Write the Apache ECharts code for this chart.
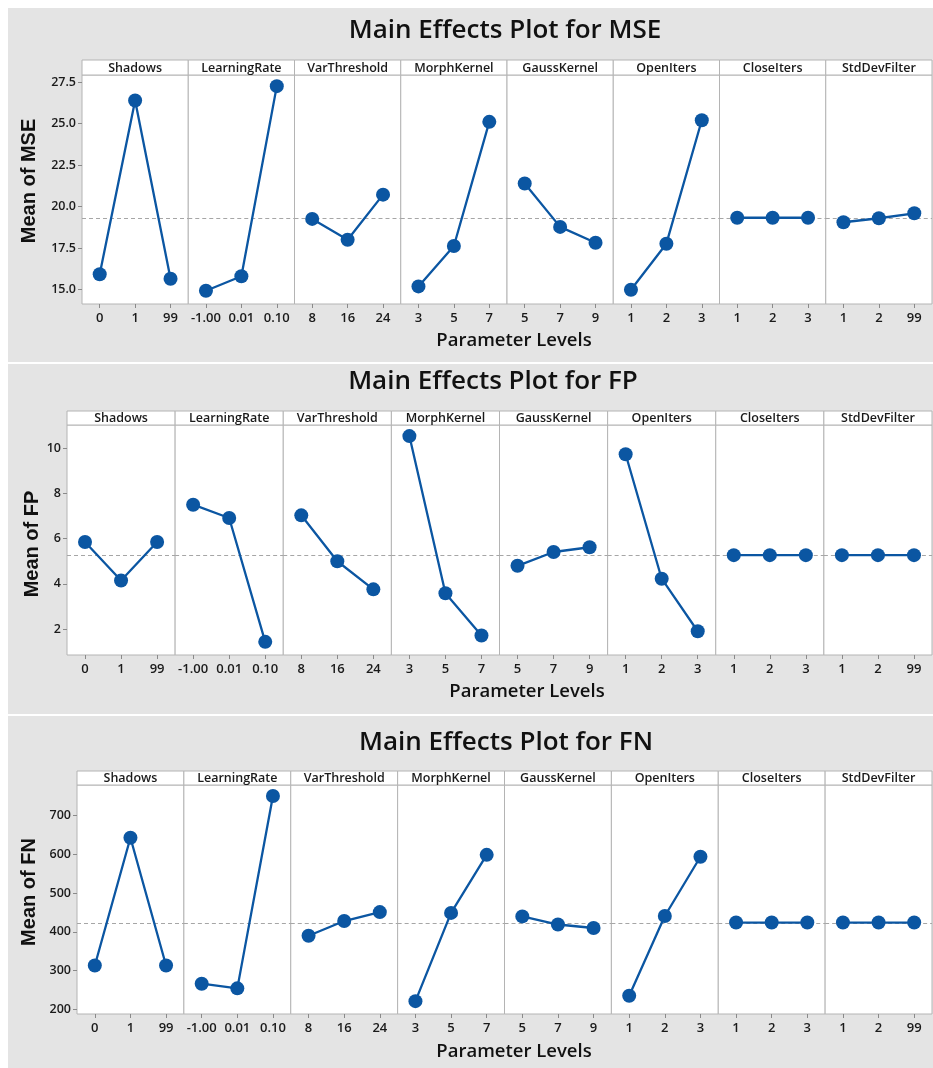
<!DOCTYPE html>
<html>
<head>
<meta charset="utf-8">
<script src="https://cdn.jsdelivr.net/npm/echarts@6/dist/echarts.min.js"></script>
<style>
  html, body { margin: 0; padding: 0; background: #ffffff; }
  #chart { width: 933px; height: 1068px; }
</style>
</head>
<body>
<div id="chart"></div>
<script>
// Factors and their three levels (x tick labels of each small panel)
const factors = ['Shadows', 'LearningRate', 'VarThreshold', 'MorphKernel', 'GaussKernel', 'OpenIters', 'CloseIters', 'StdDevFilter'];
const levelLabels = [
  ['0', '1', '99'],
  ['-1.00', '0.01', '0.10'],
  ['8', '16', '24'],
  ['3', '5', '7'],
  ['5', '7', '9'],
  ['1', '2', '3'],
  ['1', '2', '3'],
  ['1', '2', '99']
];

// Level means for each response, one row per factor
const mseMeans = [
  [15.93, 26.39, 15.66],
  [14.94, 15.81, 27.25],
  [19.26, 18.01, 20.72],
  [15.20, 17.63, 25.10],
  [21.39, 18.78, 17.83],
  [15.00, 17.77, 25.20],
  [19.33, 19.33, 19.33],
  [19.06, 19.30, 19.60]
];
const fpMeans = [
  [5.85, 4.15, 5.85],
  [7.50, 6.91, 1.44],
  [7.03, 5.00, 3.76],
  [10.53, 3.59, 1.72],
  [4.80, 5.41, 5.62],
  [9.73, 4.23, 1.91],
  [5.27, 5.27, 5.27],
  [5.27, 5.27, 5.27]
];
const fnMeans = [
  [313, 643, 313],
  [266, 254, 751],
  [390, 428, 451],
  [221, 449, 599],
  [440, 419, 410],
  [235, 441, 594],
  [424, 424, 424],
  [424, 424, 424]
];

// Grand means (dashed reference lines)
const grandMeans = [19.33, 5.27, 423];

// Y tick values and axis ranges
const mseTicks = [15.0, 17.5, 20.0, 22.5, 25.0, 27.5];
const fpTicks = [2, 4, 6, 8, 10];
const fnTicks = [200, 300, 400, 500, 600, 700];
const mseRange = [14.14, 27.92];
const fpRange = [0.86, 11.02];
const fnRange = [187.8, 779.4];

const responses = [
  { name: 'MSE', means: mseMeans, grand: grandMeans[0], ticks: mseTicks, range: mseRange, digits: 1 },
  { name: 'FP', means: fpMeans, grand: grandMeans[1], ticks: fpTicks, range: fpRange, digits: 0 },
  { name: 'FN', means: fnMeans, grand: grandMeans[2], ticks: fnTicks, range: fnRange, digits: 0 }
];

// Page layout of the three stacked panels (pixels)
const layout = [
  { bgTop: 8, bgBottom: 362, titleX: 505, titleY: 31, left: 82, right: 932, headerTop: 60, plotTop: 75, plotBottom: 304, xNameX: 514, xNameY: 341, yNameX: 29, yNameY: 181 },
  { bgTop: 364, bgBottom: 714, titleX: 493, titleY: 382, left: 67, right: 932, headerTop: 411, plotTop: 425, plotBottom: 655, xNameX: 527, xNameY: 692, yNameX: 32, yNameY: 544 },
  { bgTop: 716, bgBottom: 1068, titleX: 506, titleY: 743, left: 77, right: 932, headerTop: 771, plotTop: 785, plotBottom: 1014, xNameX: 514, xNameY: 1052, yNameX: 29, yNameY: 892 }
];

const LINE_BLUE = '#0b56a2';
const BORDER = '#b4b4b4';
const PANEL_BG = '#e4e4e4';
const TEXT = '#1a1a1a';
const UI_FONT = '"Open Sans", "Noto Sans", sans-serif';

const grids = [], xAxes = [], yAxes = [], series = [], graphics = [];

responses.forEach((resp, p) => {
  const L = layout[p];
  const cellW = (L.right - L.left) / factors.length;

  // panel background
  graphics.push({ type: 'rect', z: -100, shape: { x: 8, y: L.bgTop, width: 925, height: L.bgBottom - L.bgTop }, style: { fill: PANEL_BG } });
  // panel title
  graphics.push({ type: 'text', x: L.titleX, y: L.titleY, style: {
    text: 'Main Effects Plot for ' + resp.name, fontSize: 26, fontWeight: 600, fontFamily: UI_FONT,
    fill: '#111', align: 'center', verticalAlign: 'middle' } });
  // x axis title
  graphics.push({ type: 'text', x: L.xNameX, y: L.xNameY, style: {
    text: 'Parameter Levels', fontSize: 18.5, fontWeight: 600, fontFamily: UI_FONT,
    fill: '#111', align: 'center', verticalAlign: 'middle' } });
  // y axis title
  graphics.push({ type: 'text', x: L.yNameX, y: L.yNameY, rotation: Math.PI / 2, style: {
    text: 'Mean of ' + resp.name, fontSize: 20, fontWeight: 'bold', fontFamily: '"Liberation Sans", Arial, sans-serif',
    fill: '#111', align: 'center', verticalAlign: 'middle' } });

  factors.forEach((fac, i) => {
    const g = p * factors.length + i;
    const x0 = L.left + i * cellW;

    // factor header strip
    graphics.push({ type: 'rect', shape: { x: x0, y: L.headerTop, width: cellW, height: L.plotTop - L.headerTop },
      style: { fill: '#ffffff', stroke: BORDER, lineWidth: 1 } });
    graphics.push({ type: 'text', x: x0 + cellW / 2, y: (L.headerTop + L.plotTop) / 2 + 0.5, style: {
      text: fac, fontSize: 12.5, fontWeight: 600, fontFamily: UI_FONT, fill: TEXT, align: 'center', verticalAlign: 'middle' } });

    grids.push({
      left: x0, top: L.plotTop, width: cellW, height: L.plotBottom - L.plotTop,
      show: true, backgroundColor: '#ffffff', borderColor: BORDER, borderWidth: 1
    });

    xAxes.push({
      gridIndex: g, type: 'category', data: levelLabels[i], boundaryGap: true,
      axisLine: { show: false },
      axisTick: { show: true, alignWithLabel: true, length: 4, lineStyle: { color: '#8a8a8a' } },
      axisLabel: { interval: 0, margin: 8, fontSize: 13, fontWeight: 600, fontFamily: UI_FONT, color: TEXT },
      splitLine: { show: false }
    });

    yAxes.push({
      gridIndex: g, type: 'value', min: resp.range[0], max: resp.range[1],
      show: i === 0,
      axisLine: { show: false },
      axisTick: { show: true, length: 4, customValues: resp.ticks, lineStyle: { color: '#8a8a8a' } },
      axisLabel: { customValues: resp.ticks, margin: 6, fontSize: 12.5, fontWeight: 600, fontFamily: UI_FONT, color: TEXT,
        formatter: v => Number(v).toFixed(resp.digits) },
      splitLine: { show: false }
    });

    series.push({
      type: 'line', xAxisIndex: g, yAxisIndex: g,
      data: resp.means[i],
      symbol: 'circle', symbolSize: 14,
      itemStyle: { color: LINE_BLUE },
      lineStyle: { color: LINE_BLUE, width: 2.3 },
      z: 3,
      markLine: {
        z: 1, silent: true, symbol: 'none', animation: false,
        label: { show: false },
        lineStyle: { type: [4, 3], color: '#a6a6a6', width: 1 },
        emphasis: { disabled: true },
        data: [{ yAxis: resp.grand }]
      }
    });
  });
});

const chart = echarts.init(document.getElementById('chart'), null, { renderer: 'canvas' });
chart.setOption({
  animation: false,
  backgroundColor: '#ffffff',
  grid: grids,
  xAxis: xAxes,
  yAxis: yAxes,
  series: series,
  graphic: { elements: graphics }
});
</script>
</body>
</html>
